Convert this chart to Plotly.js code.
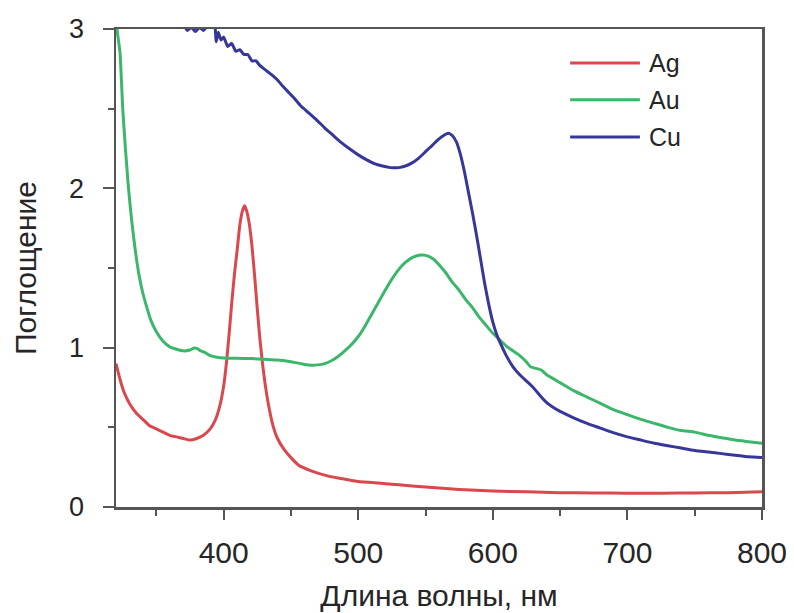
<!DOCTYPE html>
<html>
<head>
<meta charset="utf-8">
<script src="https://cdn.plot.ly/plotly-3.0.1.min.js"></script>
<style>
  html, body { margin: 0; padding: 0; background: #ffffff; }
  #chart { width: 794px; height: 613px; }
</style>
</head>
<body>
<div id="chart"></div>
<script>
// Absorption spectra of Ag, Au and Cu nanoparticles (wavelength in nm, absorbance)
const seriesNames = ["Ag", "Au", "Cu"];
const seriesColors = ["#d9484c", "#3cb66a", "#37379a"];

const agWavelength = [320,323,326,330,335,340,345,350,355,360,365,370,375,380,385,390,394,397,400,402,404,406,408,410,412,414,415.5,417,419,421,423,425,427,429,431,434,437,440,445,450,456,464,475,486,500,515,530,550,575,600,625,650,675,700,725,750,775,800];
const agAbsorbance = [0.90,0.80,0.72,0.65,0.59,0.55,0.51,0.49,0.47,0.45,0.44,0.43,0.42,0.43,0.45,0.49,0.55,0.63,0.76,0.90,1.08,1.28,1.46,1.61,1.77,1.86,1.89,1.86,1.78,1.64,1.45,1.24,1.05,0.89,0.76,0.61,0.50,0.43,0.36,0.31,0.26,0.23,0.20,0.18,0.16,0.15,0.14,0.125,0.11,0.10,0.095,0.09,0.088,0.087,0.087,0.088,0.09,0.096];

const auWavelength = [320,321,323,325,327,329,331,333,335,337,340,343,346,350,355,360,365,370,375,378,380,383,386,390,395,400,410,420,430,440,450,460,465,470,475,480,485,490,495,500,505,510,515,520,525,530,535,540,545,548,552,556,560,565,570,575,580,585,590,595,600,605,610,615,620,625,628,632,636,640,650,660,670,680,690,700,710,720,730,740,750,760,770,780,790,800];
const auAbsorbance = [3.05,2.98,2.85,2.50,2.25,2.03,1.85,1.70,1.57,1.46,1.34,1.25,1.17,1.10,1.04,1.005,0.99,0.98,0.985,0.998,0.995,0.98,0.97,0.95,0.94,0.935,0.933,0.932,0.927,0.922,0.912,0.895,0.89,0.892,0.90,0.918,0.945,0.98,1.02,1.07,1.135,1.21,1.285,1.36,1.43,1.49,1.535,1.565,1.58,1.582,1.575,1.555,1.52,1.47,1.41,1.36,1.30,1.25,1.19,1.14,1.09,1.05,1.01,0.98,0.95,0.91,0.88,0.87,0.86,0.83,0.78,0.73,0.69,0.65,0.61,0.58,0.55,0.525,0.50,0.48,0.47,0.45,0.435,0.42,0.41,0.40];

const cuWavelength = [360,366,370,373,376,379,382,385,388,391,393,394.5,396,398,400,403,406,409,412,415,418,421,424,427,430,433,436,440,444,448,452,457,463,469,475,481,487,494,500,506,512,518,524,530,535,540,545,550,555,560,564,567,570,573,576,579,582,585,588,591,594,597,600,603,606,610,615,620,625,630,635,640,645,650,660,670,680,690,700,710,720,730,740,750,760,770,780,790,800];
const cuAbsorbance = [3.15,3.08,3.03,2.99,3.01,2.985,3.01,2.99,3.02,3.03,3.08,2.92,2.98,2.93,2.95,2.89,2.91,2.86,2.87,2.84,2.84,2.80,2.80,2.77,2.75,2.73,2.71,2.68,2.64,2.605,2.57,2.52,2.475,2.43,2.38,2.335,2.29,2.245,2.21,2.18,2.155,2.14,2.13,2.13,2.14,2.16,2.19,2.23,2.27,2.31,2.335,2.345,2.33,2.29,2.21,2.10,1.97,1.84,1.70,1.55,1.40,1.27,1.16,1.08,1.02,0.95,0.88,0.83,0.79,0.75,0.70,0.655,0.625,0.60,0.56,0.525,0.495,0.465,0.44,0.42,0.40,0.385,0.37,0.355,0.345,0.335,0.325,0.315,0.31];

const xTickValues = [400, 500, 600, 700, 800];
const yTickValues = [0, 1, 2, 3];
const xTitle = "Длина волны, нм";
const yTitle = "Поглощение";

const fontFamily = "Liberation Sans, Arial, Helvetica, sans-serif";
const axisColor = "#555555";
const textColor = "#262626";

const xs = [agWavelength, auWavelength, cuWavelength];
const ys = [agAbsorbance, auAbsorbance, cuAbsorbance];

const traces = seriesNames.map((name, i) => ({
  type: "scatter",
  mode: "lines",
  name: name,
  x: xs[i],
  y: ys[i],
  line: { color: seriesColors[i], width: 3, shape: "spline", smoothing: 0.4 },
  showlegend: false,
  cliponaxis: true
}));

// Legend drawn as short line samples with labels in the upper right
const legendLineX = [0.703, 0.811];
const legendTextX = 0.822;
const legendRowsY = [0.929, 0.852, 0.774];

const shapes = seriesNames.map((name, i) => ({
  type: "line", xref: "paper", yref: "paper",
  x0: legendLineX[0], x1: legendLineX[1],
  y0: legendRowsY[i], y1: legendRowsY[i],
  line: { color: seriesColors[i], width: 3 }
}));

const annotations = seriesNames.map((name, i) => ({
  xref: "paper", yref: "paper",
  x: legendTextX, y: legendRowsY[i],
  xanchor: "left", yanchor: "middle",
  text: name, showarrow: false,
  font: { family: fontFamily, size: 25, color: textColor }
}));

const layout = {
  width: 794,
  height: 613,
  margin: { l: 116, r: 32, t: 29, b: 106 },
  paper_bgcolor: "#ffffff",
  plot_bgcolor: "#ffffff",
  font: { family: fontFamily, color: textColor },
  showlegend: false,
  xaxis: {
    range: [320, 800],
    tickvals: xTickValues,
    ticktext: xTickValues.map(String),
    ticks: "outside",
    ticklen: 10,
    tickwidth: 2,
    tickcolor: axisColor,
    minor: { dtick: 50, tick0: 350, ticks: "outside", ticklen: 6, tickwidth: 2, tickcolor: axisColor, showgrid: false },
    showline: true,
    linecolor: axisColor,
    linewidth: 2.5,
    mirror: true,
    showgrid: false,
    zeroline: false,
    ticklabelstandoff: 7,
    tickfont: { family: fontFamily, size: 30, color: textColor },
    title: { text: xTitle, font: { family: fontFamily, size: 30, color: textColor }, standoff: 18 },
    automargin: false
  },
  yaxis: {
    range: [0, 3],
    tickvals: yTickValues,
    ticktext: yTickValues.map(String),
    ticks: "outside",
    ticklen: 11,
    tickwidth: 2,
    tickcolor: axisColor,
    minor: { dtick: 0.5, tick0: 0.5, ticks: "outside", ticklen: 6, tickwidth: 2, tickcolor: axisColor, showgrid: false },
    showline: true,
    linecolor: axisColor,
    linewidth: 2.5,
    mirror: true,
    showgrid: false,
    zeroline: false,
    ticklabelstandoff: 13,
    tickfont: { family: fontFamily, size: 27, color: textColor },
    title: { text: yTitle, font: { family: fontFamily, size: 30, color: textColor }, standoff: 24 },
    automargin: false
  },
  shapes: shapes,
  annotations: annotations
};

Plotly.newPlot("chart", traces, layout, { staticPlot: true, displayModeBar: false });
</script>
</body>
</html>
